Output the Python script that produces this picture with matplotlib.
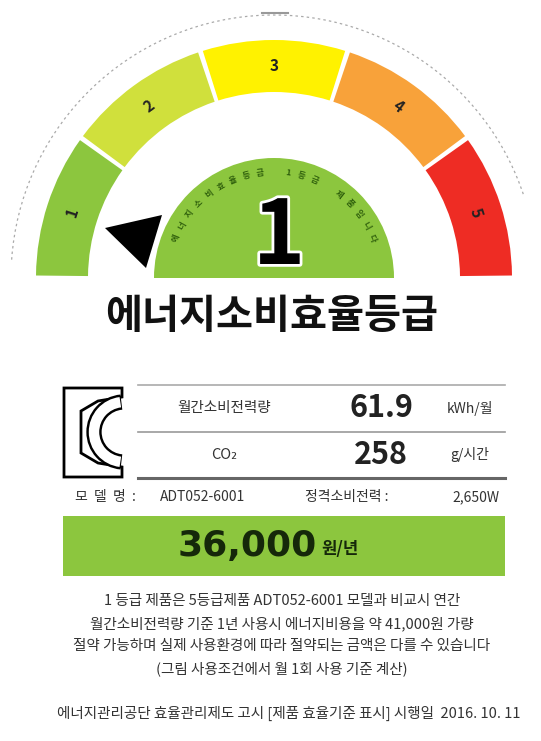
import numpy as np
import matplotlib
matplotlib.use("Agg")
import matplotlib.pyplot as plt
from matplotlib.patches import Wedge, Polygon, Rectangle, Arc
import matplotlib.patheffects as pe

plt.rcParams['font.family'] = ['Noto Sans CJK KR', 'DejaVu Sans']

# grade band data
grades = ["1", "2", "3", "4", "5"]
grade_colors = ["#8cc63e", "#d0e03c", "#fff200", "#f8a23a", "#ee2c24"]
current_grade = "1"

title = "에너지소비효율등급"
arc_caption = "에너지소비효율등급 1등급 제품입니다"

row_labels = ["월간소비전력량", "CO₂"]
row_values = ["61.9", "258"]
row_units = ["kWh/월", "g/시간"]

model_name = "ADT052-6001"
rated_power = "2,650W"
cost_value = "36,000"
cost_unit = "원/년"

footnote = [
    "1 등급 제품은 5등급제품 ADT052-6001 모델과 비교시 연간",
    "월간소비전력량 기준 1년 사용시 에너지비용을 약 41,000원 가량",
    "절약 가능하며 실제 사용환경에 따라 절약되는 금액은 다를 수 있습니다",
    "(그림 사용조건에서 월 1회 사용 기준 계산)",
]
bottom_line = "에너지관리공단 효율관리제도 고시 [제품 효율기준 표시] 시행일  2016. 10. 11"

W, H = 541, 741
fig = plt.figure(figsize=(W / 100, H / 100), dpi=100)
ax = fig.add_axes([0, 0, 1, 1])
ax.set_xlim(0, W)
ax.set_ylim(H, 0)
ax.set_aspect("equal")
ax.axis("off")

cx, cy = 274, 278
r_out, r_in = 238, 186

# dashed outer arc
ax.add_patch(Arc((cx, cy), 2 * 263, 2 * 263, theta1=-176, theta2=-18,
                 color="#aaaaaa", lw=0.9, ls=(0, (2, 2.5))))
ax.plot([262, 288], [13, 13], color="#999999", lw=1.5)

# grade segments (y axis inverted, so angles are negated)
for i, (g, col) in enumerate(zip(grades, grade_colors)):
    a0 = 180 - 36 * (i + 1)
    a1 = 180 - 36 * i
    ax.add_patch(Wedge((cx, cy), r_out, -a1 + 0.6, -a0 - 0.6,
                       width=r_out - r_in, facecolor=col, edgecolor="none"))
    mid = np.deg2rad((a0 + a1) / 2)
    rm = (r_out + r_in) / 2
    ax.text(cx + rm * np.cos(mid), cy - rm * np.sin(mid), g,
            rotation=np.rad2deg(mid) - 90, ha="center", va="center",
            fontsize=11, fontweight="bold", color="#222222")

# inner semicircle
ax.add_patch(Wedge((cx, cy), 120, 180, 360, facecolor="#8cc63e", edgecolor="none"))
n = len(arc_caption)
for k, ch in enumerate(arc_caption):
    ang = np.deg2rad(158 - k * (136 / (n - 1)))
    ax.text(cx + 106 * np.cos(ang), cy - 106 * np.sin(ang), ch,
            rotation=np.rad2deg(ang) - 90, ha="center", va="center",
            fontsize=6, color="#2f5f0c", fontweight="bold")
ax.text(cx + 5, cy - 40, current_grade, ha="center", va="center", fontsize=64,
        fontweight="bold", color="black",
        path_effects=[pe.Stroke(linewidth=4, foreground="white"), pe.Normal()])

# pointer triangle
ax.add_patch(Polygon([[105, 228], [162, 215], [146, 268]], closed=True,
                     facecolor="black", edgecolor="none"))

# title
ax.text(272, 316, title, ha="center", va="center", fontsize=29,
        fontweight="bold", color="#111111")

# KC mark
ax.add_patch(Polygon([[64, 388], [122, 388], [122, 397], [98, 401], [81, 411],
                      [81, 453], [98, 463], [122, 467], [122, 477], [64, 477]],
                     closed=True, facecolor="white", edgecolor="black", lw=2))
ax.add_patch(Arc((124, 432), 60, 60, theta1=95, theta2=265, color="black", lw=11))
ax.add_patch(Arc((124, 432), 60, 60, theta1=97, theta2=263, color="white", lw=7.5))

# info table
ax.plot([138, 505], [385, 385], color="#aaaaaa", lw=1.2)
ax.plot([138, 505], [432, 432], color="#999999", lw=1.2)
ax.plot([138, 505], [478, 478], color="#666666", lw=2.2)
row_y = [408, 455]
for y, lab, val, unit in zip(row_y, row_labels, row_values, row_units):
    ax.text(224, y, lab, ha="center", va="center", fontsize=10.5, color="#333333")
    ax.text(381, y, val, ha="center", va="center", fontsize=22,
            fontweight="bold", color="#222222")
    ax.text(470, y, unit, ha="center", va="center", fontsize=10, color="#333333")

# model / rated power line
ax.text(75, 497, "모  델  명  :", ha="left", va="center", fontsize=10, color="#333333")
ax.text(160, 497, model_name, ha="left", va="center", fontsize=10, color="#333333")
ax.text(305, 497, "정격소비전력 :", ha="left", va="center", fontsize=10, color="#333333")
ax.text(500, 497, rated_power, ha="right", va="center", fontsize=10, color="#333333")

# annual cost box
ax.add_patch(Rectangle((63, 516), 442, 60, facecolor="#8cc63e", edgecolor="none"))
ax.text(317, 546, cost_value, ha="right", va="center", fontsize=26,
        fontweight="bold", color="#15280a", family="DejaVu Sans")
ax.text(321, 549, cost_unit, ha="left", va="center", fontsize=12,
        fontweight="bold", color="#15280a")

# footnotes
for j, line in enumerate(footnote):
    ax.text(282, 601 + j * 22.5, line, ha="center", va="center",
            fontsize=10.5, color="#333333")
ax.text(289, 713, bottom_line, ha="center", va="center", fontsize=10.5, color="#333333")

fig.savefig("out.png", dpi=100, facecolor="white")
